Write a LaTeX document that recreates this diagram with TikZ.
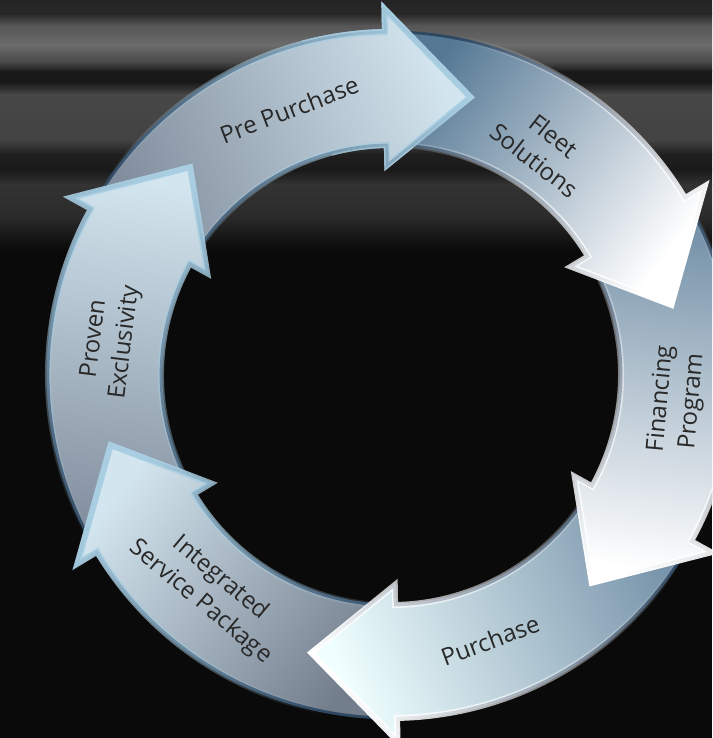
\documentclass[tikz,border=0pt]{standalone}
\usepackage{fontspec}
\setmainfont{Open Sans}
\usetikzlibrary{fadings}
\definecolor{backblack}{RGB}{10,10,10}
\definecolor{ringnavy}{RGB}{47,72,98}
\definecolor{paleblue}{RGB}{211,229,239}
\definecolor{rimblue}{RGB}{169,206,226}
\definecolor{steeltail}{RGB}{85,120,148}
\definecolor{greytail}{RGB}{128,140,156}
\definecolor{labelgrey}{RGB}{40,40,40}

\tikzfading[name=fadetohead, top color=transparent!0, bottom color=transparent!100]

% one ring segment: tail angle #1, head base at #1-60, tip at #1-77
\newcommand{\segpath}[1]{%
  ({#1}:343) arc[start angle={#1}, end angle={#1-60}, radius=343]
  -- ({#1-60}:366) -- ({#1-77}:289) -- ({#1-60}:210)
  -- ({#1-60}:230) arc[start angle={#1-60}, end angle={#1}, radius=230] -- cycle}
% #1 tail angle, #2 tail colour, #3 middle colour, #4 head colour, #5 rim colour
\newcommand{\drawseg}[5]{%
  \shade[bottom color=#2, middle color=#3, top color=#4, shading angle={#1-218.5}] \segpath{#1};
  \draw[ringnavy, line width=1.4] \segpath{#1};
  \draw[#5, line width=3, path fading=fadetohead, fading angle={#1-218.5}] \segpath{#1};
}

\tikzset{
  steplabel/.style={font=\fontsize{12}{15.5}\selectfont, text=labelgrey, align=center, inner sep=0pt}
}

\begin{document}
\begin{tikzpicture}[x=0.5pt, y=0.5pt]
  \useasboundingbox (-391,-363) rectangle (321,375);
  \clip (-391,-363) rectangle (321,375);
  % backdrop with soft streaks (depth from top / black %)
  \fill[backblack] (-391,-363) rectangle (321,375);
  \foreach \ya/\yb/\ca/\cb in {0/14/86/84, 14/26/84/66, 26/45/66/58, 45/62/58/72, 62/72/72/90,
      72/82/90/90, 82/95/90/72, 95/140/72/74, 140/155/74/88, 155/170/88/90, 170/185/90/80,
      185/215/80/83, 215/250/83/96}
    \shade[top color=black!\ca, bottom color=black!\cb] (-391,{375-\ya}) rectangle (321,{375-\yb});

  % segments, each head over the next tail
  \drawseg{151}{greytail}{black!10!paleblue!80!greytail}{paleblue}{rimblue}
  \drawseg{-149}{greytail}{paleblue!75!greytail}{paleblue}{rimblue}
  \drawseg{-89}{greytail!90!black}{paleblue!70!greytail}{paleblue}{rimblue}
  \drawseg{-29}{steeltail!80!white}{white!75!steeltail}{cyan!6!white}{white}
  \drawseg{31}{steeltail!85!white}{white!75!steeltail}{white}{white}
  \drawseg{91}{steeltail}{white!70!steeltail}{white}{white}
  % Pre Purchase head once more on top of Fleet Solutions
  \begin{scope}
    \clip (0,0) -- (105:420) arc[start angle=105, end angle=60, radius=420] -- cycle;
    \drawseg{151}{greytail}{black!10!paleblue!80!greytail}{paleblue}{rimblue}
  \end{scope}

  % labels
  \node[steplabel, rotate=21] (pre) at (111:284) {Pre Purchase};
  \node[steplabel, rotate=-38] (fleet) at (56:274) {Fleet\\Solutions};
  \node[steplabel, rotate=85] (financing) at (-5:287) {Financing\\Program};
  \node[steplabel, rotate=20.5] (purchase) at (-69.5:283) {Purchase};
  \node[steplabel, rotate=-40] (integrated) at (-130:281) {Integrated\\Service Package};
  \node[steplabel, rotate=83] (proven) at (173:283) {Proven\\Exclusivity};
\end{tikzpicture}
\end{document}
